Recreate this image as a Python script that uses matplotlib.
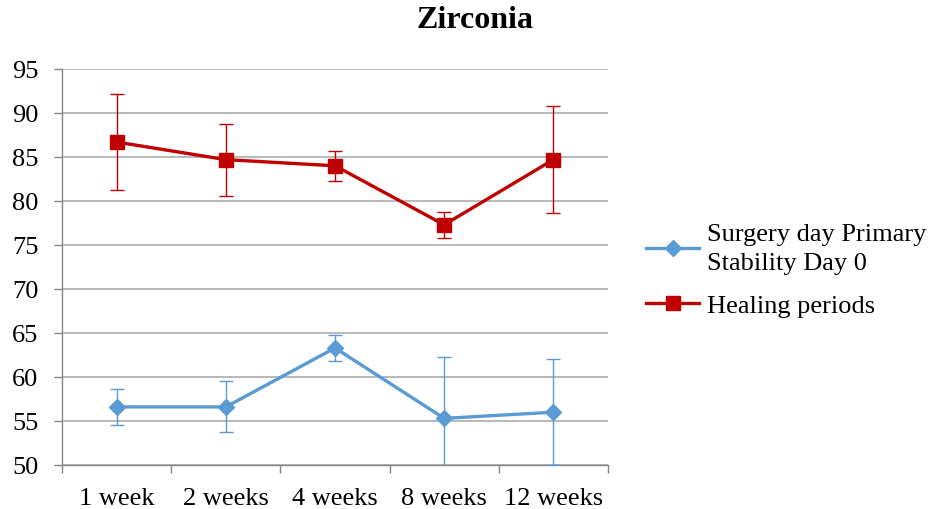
import matplotlib
matplotlib.use("Agg")
import matplotlib.pyplot as plt
from matplotlib.lines import Line2D

categories = ["1 week", "2 weeks", "4 weeks", "8 weeks", "12 weeks"]
surgery = [56.6, 56.6, 63.3, 55.3, 56.0]
surgery_err = [2.05, 2.9, 1.5, 7.0, 6.0]
healing = [86.7, 84.7, 84.0, 77.3, 84.7]
healing_err = [5.5, 4.1, 1.7, 1.5, 6.1]
yticks = [50, 55, 60, 65, 70, 75, 80, 85, 90, 95]

plt.rcParams['font.family'] = ['Liberation Serif', 'DejaVu Serif']

blue = "#5B9BD5"
red = "#C00000"

fig = plt.figure(figsize=(9.29, 5.10), dpi=100)
ax = fig.add_axes([62/929, 44/510, (608-62)/929, (466-70)/510])

x = list(range(len(categories)))
ax.errorbar(x, surgery, yerr=surgery_err, color=blue, lw=2.4, marker='D', ms=8,
            ecolor=blue, elinewidth=1.0, capsize=5, capthick=1.0, zorder=3)
ax.errorbar(x, healing, yerr=healing_err, color=red, lw=2.4, marker='s', ms=10,
            ecolor=red, elinewidth=1.0, capsize=5, capthick=1.0, zorder=3)

ax.set_xlim(-0.5, len(categories) - 0.5)
ax.set_ylim(50, 95)
ax.set_yticks(yticks)
ax.set_xticks(x)
ax.set_xticklabels(categories)
ax.set_xticks([i + 0.5 for i in range(-1, len(categories))], minor=True)
ax.tick_params(axis='x', which='major', length=0, labelsize=19, pad=16)
ax.tick_params(axis='x', which='minor', length=6, color='#868686', width=1)
ax.tick_params(axis='y', length=6, color='#868686', width=1, labelsize=19, pad=11)
ax.yaxis.grid(True, color='#a6a6a6', lw=1.1)
ax.set_axisbelow(True)
for s in ['top', 'right']:
    ax.spines[s].set_visible(False)
for s in ['left', 'bottom']:
    ax.spines[s].set_color('#868686')
    ax.spines[s].set_linewidth(1)

fig.text(475/929, 1 - 21/510, "Zirconia", ha='center', va='center',
         fontsize=23, fontweight='bold')

h = [Line2D([], [], color=blue, lw=2.4, marker='D', ms=8),
     Line2D([], [], color=red, lw=2.4, marker='s', ms=10)]
leg = fig.legend(h, ["Surgery day Primary\nStability Day 0", "Healing periods"],
                 loc='upper left', bbox_to_anchor=(633/929, 1 - 211/510),
                 frameon=False, fontsize=19, handlelength=2.0, handletextpad=0.3,
                 labelspacing=0.75, borderpad=0)
leg.get_texts()[0].set_linespacing(1.4)

fig.savefig("out.png", dpi=100)
